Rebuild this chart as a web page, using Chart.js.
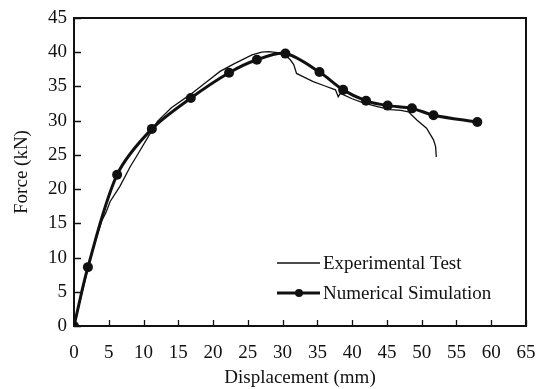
<!DOCTYPE html>
<html>
<head>
<meta charset="utf-8">
<script src="https://cdn.jsdelivr.net/npm/chart.js@4"></script>
<style>
  body { margin: 0; background: #fff; }
  #wrap { width: 537px; height: 389px; }
</style>
</head>
<body>
<div id="wrap"><canvas id="chart" width="537" height="389"></canvas></div>
<script>
// experimental test (thin line)
const expX = [0, 1, 2, 3, 4, 4.6, 5.2, 6.6, 8.1, 9.0, 10.7, 12, 14, 16.7, 19, 21, 23, 25.6, 27, 28, 29.6, 30.4, 31.1, 31.6, 32.0, 33, 34.4, 36, 37.6, 38.0, 38.3, 40, 41.6, 43.5, 45.5, 47, 48.1, 49.3, 50.7, 51.7, 52.0, 52.1];
const expY = [0, 4.2, 8.4, 12.2, 15.4, 16.6, 18.2, 20.4, 23.3, 24.8, 27.7, 29.9, 31.9, 33.8, 35.6, 37.2, 38.3, 39.6, 40.0, 40.1, 39.9, 39.6, 38.9, 38.2, 36.9, 36.4, 35.7, 35.1, 34.5, 33.5, 34.0, 33.2, 32.6, 32.1, 31.6, 31.5, 31.3, 30.1, 28.9, 27.2, 26.2, 24.7];

// numerical simulation (thick line with markers)
const simX = [0, 2.0, 6.2, 11.2, 16.8, 22.3, 26.3, 30.4, 35.3, 38.7, 42.0, 45.1, 48.6, 51.7, 58.0];
const simY = [0, 8.6, 22.1, 28.8, 33.3, 37.0, 38.9, 39.8, 37.1, 34.5, 32.9, 32.2, 31.8, 30.8, 29.8];

const labels = ["Experimental Test", "Numerical Simulation"];
const xTicks = [0, 5, 10, 15, 20, 25, 30, 35, 40, 45, 50, 55, 60, 65];
const yTicks = [0, 5, 10, 15, 20, 25, 30, 35, 40, 45];

const ink = "#111";
const font = { family: "'Liberation Serif', 'DejaVu Serif', serif", size: 19 };

function pts(xs, ys) {
  return xs.map((x, i) => ({ x: x, y: ys[i] }));
}

// inward ticks, top/right frame, and the legend inside the plot
const framePlugin = {
  id: "frame",
  afterDraw(chart) {
    const c = chart.ctx;
    const a = chart.chartArea;
    const xs = chart.scales.x, ys = chart.scales.y;
    c.save();
    c.strokeStyle = ink;
    c.lineWidth = 2;
    c.beginPath();
    c.moveTo(a.left, a.top); c.lineTo(a.right, a.top); c.lineTo(a.right, a.bottom);
    c.stroke();
    c.lineWidth = 1.3;
    c.beginPath();
    xTicks.forEach(v => {
      const px = Math.round(xs.getPixelForValue(v)) + 0.5;
      c.moveTo(px, a.bottom); c.lineTo(px, a.bottom - 6);
    });
    yTicks.forEach(v => {
      const py = Math.round(ys.getPixelForValue(v)) + 0.5;
      c.moveTo(a.left, py); c.lineTo(a.left + 7, py);
    });
    c.stroke();

    // legend
    const ds = chart.data.datasets;
    const lx = a.left + 203, lw = 43;
    const rows = [a.top + 245, a.top + 275];
    c.font = "19px " + font.family;
    c.textBaseline = "middle";
    c.fillStyle = ink;
    ds.forEach((d, i) => {
      const y = rows[i];
      c.lineWidth = d.borderWidth;
      c.beginPath();
      c.moveTo(lx, y); c.lineTo(lx + lw, y);
      c.stroke();
      if (d.pointRadius > 0) {
        c.beginPath();
        c.arc(lx + 22, y, 4, 0, Math.PI * 2);
        c.fill();
      }
      c.fillText(d.label, lx + lw + 3, y + 1);
    });
    c.restore();
  }
};

new Chart(document.getElementById("chart"), {
  type: "scatter",
  data: {
    datasets: [
      {
        label: labels[0],
        data: pts(expX, expY),
        showLine: true,
        borderColor: ink,
        borderWidth: 1.3,
        pointRadius: 0,
        tension: 0
      },
      {
        label: labels[1],
        data: pts(simX, simY),
        showLine: true,
        borderColor: ink,
        backgroundColor: ink,
        borderWidth: 3,
        pointRadius: 5,
        pointBackgroundColor: ink,
        pointBorderWidth: 0,
        tension: 0.3
      }
    ]
  },
  options: {
    responsive: false,
    animation: false,
    events: [],
    layout: { padding: { left: 0, right: 11, top: 18, bottom: 0 } },
    plugins: { legend: { display: false }, tooltip: { enabled: false } },
    scales: {
      x: {
        type: "linear",
        min: 0,
        max: 65,
        afterFit: s => { s.height = 63; s.paddingLeft = 0; s.paddingRight = 0; },
        afterBuildTicks: s => { s.ticks = xTicks.map(v => ({ value: v })); },
        grid: { display: false, drawTicks: false },
        border: { display: true, color: ink, width: 2 },
        ticks: { color: ink, font: font, padding: 16, maxRotation: 0 },
        title: { display: true, text: "Displacement (mm)", color: ink, font: font, padding: { top: 0, bottom: 0 } }
      },
      y: {
        type: "linear",
        min: 0,
        max: 45,
        afterFit: s => { s.width = 74; s.paddingTop = 0; s.paddingBottom = 0; },
        afterBuildTicks: s => { s.ticks = yTicks.map(v => ({ value: v })); },
        grid: { display: false, drawTicks: false },
        border: { display: true, color: ink, width: 2 },
        ticks: { color: ink, font: font, padding: 7 },
        title: { display: true, text: "Force (kN)", color: ink, font: font, padding: { top: 11, bottom: 0 } }
      }
    }
  },
  plugins: [framePlugin]
});
</script>
</body>
</html>
